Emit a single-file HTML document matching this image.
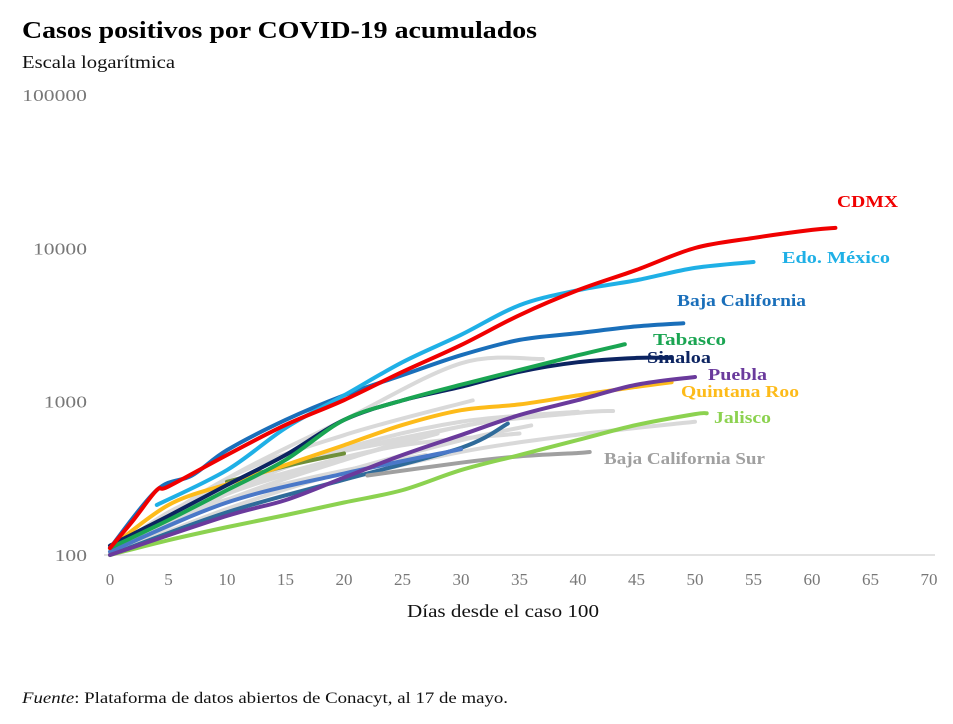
<!DOCTYPE html>
<html><head><meta charset="utf-8">
<style>
html,body{margin:0;padding:0;background:#fff;width:953px;height:724px;overflow:hidden}
svg text{font-family:"Liberation Serif",serif}
</style></head>
<body>
<svg id="chart" width="953" height="724" viewBox="0 0 953 724" xmlns="http://www.w3.org/2000/svg">
<text x="22" y="38" font-size="24" font-weight="bold" fill="#000" textLength="515" lengthAdjust="spacingAndGlyphs">Casos positivos por COVID-19 acumulados</text>
<text x="22" y="68" font-size="18" fill="#111" textLength="153" lengthAdjust="spacingAndGlyphs">Escala logarítmica</text>
<line x1="104" y1="555" x2="935" y2="555" stroke="#d9d9d9" stroke-width="1.5"/>
<g id="yticks"></g>
<g id="xticks"></g>
<g id="series"></g>
<g id="labels"></g>
<text x="407" y="617" font-size="18" fill="#111" textLength="192" lengthAdjust="spacingAndGlyphs">Días desde el caso 100</text>
<text x="22" y="703" font-size="16" fill="#111" textLength="486" lengthAdjust="spacingAndGlyphs"><tspan font-style="italic">Fuente</tspan>: Plataforma de datos abiertos de Conacyt, al 17 de mayo.</text>
</svg>
<script>
const yTicks=[100,1000,10000,100000];
const xTicks=[0,5,10,15,20,25,30,35,40,45,50,55,60,65,70];
// gray background states
const grayDays=[[0,10,20,30,37],[0,10,20,30,40,43],[0,10,20,30,40,50],[0,10,20,31],[0,10,20,30,40],[0,8,16,24,33],[0,10,20,28],[0,10,20,30,36],[0,6,12,18,26],[0,5,10,15,22],[0,8,16,25,35],[0,4,10,18,27]];
const grayVals=[[105,315,760,1780,1900],[100,228,416,690,845,870],[100,190,310,470,610,740],[100,315,605,1020],[110,265,495,740,860],[100,230,400,560,760],[105,250,420,620],[100,200,350,560,700],[100,170,300,440,580],[105,190,280,380,520],[100,230,360,520,620],[100,150,230,330,450]];
// highlighted colored states
const cdmxDays=[0,2,4,5,10,15,20,25,30,35,40,45,50,55,60,62];
const cdmxVals=[111,169,265,280,449,705,1024,1566,2340,3670,5340,7240,10060,11700,13200,13600];
const edomexDays=[4,10,15,20,25,30,35,40,45,50,55];
const edomexVals=[212,358,673,1100,1810,2730,4260,5340,6200,7460,8150];
const bcDays=[0,4,7,10,15,20,25,30,35,40,45,49];
const bcVals=[111,265,330,483,760,1100,1490,2010,2530,2800,3100,3250];
const tabascoDays=[0,5,10,15,20,25,30,35,40,44];
const tabascoVals=[111,169,265,417,760,1020,1290,1610,2010,2370];
const sinaloaDays=[0,5,10,15,20,25,30,35,40,45,48];
const sinaloaVals=[115,180,286,449,760,1020,1250,1566,1810,1930,1930];
const pueblaDays=[0,10,15,20,25,30,35,40,45,50];
const pueblaVals=[100,180,228,320,449,606,818,1024,1290,1450];
const qrooDays=[0,5,10,15,20,25,30,35,40,45,48];
const qrooVals=[111,212,290,386,520,705,880,960,1100,1250,1340];
const jaliscoDays=[0,5,10,15,20,25,30,35,40,45,50,51];
const jaliscoVals=[100,125,152,182,220,265,358,449,563,705,830,840];
const bcsDays=[22,30,35,40,41];
const bcsVals=[330,400,440,463,470];
const otherDays=[[10,15,20],[0,10,20,30,34],[0,10,20,30]];
const otherVals=[[300,380,460],[100,190,310,500,720],[105,220,340,490]];
const otherColors=["#6f8f3a","#2f6b9a","#4a78c8"];

const X0=110,XS=(929-110)/70,Y0=555,YD=153.3;
const xs=d=>X0+d*XS;
const ys=v=>Y0-(Math.log10(v)-2)*YD;
const NS="http://www.w3.org/2000/svg";
const yt=document.getElementById('yticks');
yTicks.forEach(v=>{const t=document.createElementNS(NS,'text');


const w=String(v).length*10.8;
t.setAttribute('x',87-w);t.setAttribute('y',ys(v)+6);t.setAttribute('font-size','17');t.setAttribute('fill','#777');
t.setAttribute('textLength',w);t.setAttribute('lengthAdjust','spacingAndGlyphs');t.textContent=v;yt.appendChild(t);});
const xt=document.getElementById('xticks');
xTicks.forEach(v=>{const t=document.createElementNS(NS,'text');


t.setAttribute('x',xs(v));t.setAttribute('y',585);t.setAttribute('font-size','17');t.setAttribute('fill','#777');t.setAttribute('text-anchor','middle');t.textContent=v;xt.appendChild(t);});
const sg=document.getElementById('series');
function path(days,vals){let p=days.map((d,i)=>[xs(d),ys(vals[i])]);
if(p.length<3)return 'M'+p.map(q=>q.join(',')).join('L');
let s='M'+p[0][0]+','+p[0][1];
for(let i=0;i<p.length-1;i++){const a=p[Math.max(0,i-1)],b=p[i],c=p[i+1],d=p[Math.min(p.length-1,i+2)];
s+=` C${b[0]+(c[0]-a[0])/6},${b[1]+(c[1]-a[1])/6} ${c[0]-(d[0]-b[0])/6},${c[1]-(d[1]-b[1])/6} ${c[0]},${c[1]}`;}
return s;}
function line(days,vals,color,name){const p=document.createElementNS(NS,'path');


p.setAttribute('d',path(days,vals));p.setAttribute('fill','none');p.setAttribute('stroke',color);p.setAttribute('stroke-width','4');p.setAttribute('stroke-linecap','round');p.setAttribute('stroke-linejoin','round');sg.appendChild(p);}
grayDays.forEach((d,i)=>line(d,grayVals[i],'#d9d9d9','line-other-state'));
otherDays.forEach((d,i)=>line(d,otherVals[i],otherColors[i],'line-other-state'));
line(bcsDays,bcsVals,'#a0a0a0','line-baja-california-sur');
line(jaliscoDays,jaliscoVals,'#8cd250','line-jalisco');
line(qrooDays,qrooVals,'#fdbb1a','line-quintana-roo');
line(pueblaDays,pueblaVals,'#6a3a9c','line-puebla');
line(sinaloaDays,sinaloaVals,'#0c2461','line-sinaloa');
line(tabascoDays,tabascoVals,'#1aa552','line-tabasco');
line(bcDays,bcVals,'#1a6fba','line-baja-california');
line(edomexDays,edomexVals,'#1fb0e6','line-edo-mexico');
line(cdmxDays,cdmxVals,'#f00000','line-cdmx');
const labels=[["CDMX",837,207,"#f00000",61],["Edo. México",782,263,"#1fb0e6",108],["Baja California",677,306,"#1a6fba",129],["Tabasco",653,345,"#1aa552",73],["Sinaloa",647,363,"#0c2461",64],["Puebla",708,380,"#6a3a9c",59],["Quintana Roo",681,397,"#fdbb1a",118],["Jalisco",714,423,"#8cd250",57],["Baja California Sur",604,464,"#a0a0a0",161]];
const lg=document.getElementById('labels');
labels.forEach(l=>{const t=document.createElementNS(NS,'text');


t.setAttribute('x',l[1]);t.setAttribute('y',l[2]);t.setAttribute('font-size','17');t.setAttribute('font-weight','bold');t.setAttribute('fill',l[3]);
t.setAttribute('textLength',l[4]);t.setAttribute('lengthAdjust','spacingAndGlyphs');t.textContent=l[0];lg.appendChild(t);});
</script>
</body></html>
